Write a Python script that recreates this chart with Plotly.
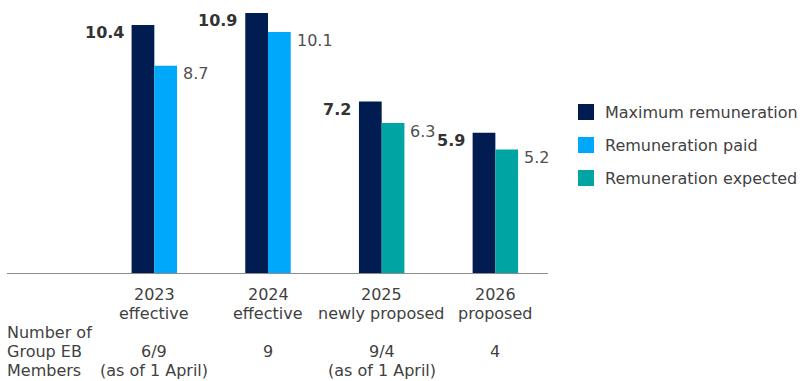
import plotly.graph_objects as go

# ---------------- data ----------------
years = ["2023", "2024", "2025", "2026"]
status = ["effective", "effective", "newly proposed", "proposed"]
max_remuneration = [10.4, 10.9, 7.2, 5.9]
remuneration_paid = [8.7, 10.1]          # 2023, 2024
remuneration_expected = [6.3, 5.2]       # 2025, 2026
members_count = ["6/9", "9", "9/4", "4"]
members_note = ["(as of 1 April)", "", "(as of 1 April)", ""]
members_label = ["Number of", "Group EB", "Members"]
series_names = ["Maximum remuneration", "Remuneration paid", "Remuneration expected"]
colors = ["#011C51", "#00A8FC", "#00A4A2"]

# ---------------- layout helpers ----------------
W, H = 805, 381
L, R, T, B = 7, 257, 6, 107
PW, PH = W - L - R, H - T - B
FONT = "DejaVu Sans"
FS = 16
TXT = "#414141"

def px_x(p):
    return (p - L) / PW

def px_y(p):
    return (H - B - p) / PH

idx = list(range(len(years)))
paid_idx = idx[:2]
exp_idx = idx[2:]
BW = 0.2

fig = go.Figure()
fig.add_trace(go.Bar(x=idx, y=max_remuneration, width=BW, offset=-BW,
                     marker=dict(color=colors[0], line=dict(width=0)),
                     name=series_names[0], showlegend=False, hoverinfo="y"))
fig.add_trace(go.Bar(x=paid_idx, y=remuneration_paid, width=BW, offset=0,
                     marker=dict(color=colors[1], line=dict(width=0)),
                     name=series_names[1], showlegend=False, hoverinfo="y"))
fig.add_trace(go.Bar(x=exp_idx, y=remuneration_expected, width=BW, offset=0,
                     marker=dict(color=colors[2], line=dict(width=0)),
                     name=series_names[2], showlegend=False, hoverinfo="y"))

ann = []
# value labels
for i, v in zip(idx, max_remuneration):
    ann.append(dict(x=i - BW, y=v, xref="x", yref="y", text=f"<b>{v:.1f}</b>",
                    xanchor="right", yanchor="middle", xshift=-6, yshift=-8,
                    showarrow=False, font=dict(family=FONT, size=FS, color="#333333")))
for i, v in list(zip(paid_idx, remuneration_paid)) + list(zip(exp_idx, remuneration_expected)):
    ann.append(dict(x=i + BW, y=v, xref="x", yref="y", text=f"{v:.1f}",
                    xanchor="left", yanchor="middle", xshift=4, yshift=-8,
                    showarrow=False, font=dict(family=FONT, size=FS, color="#505050")))

# category labels and members rows
line_y = [294.5, 313.5, 332.5, 351.5, 370.5]
for i in idx:
    rows = [years[i], status[i], "", members_count[i], members_note[i]]
    for r, t in enumerate(rows):
        if t:
            ann.append(dict(x=i, y=px_y(line_y[r]), xref="x", yref="paper", text=t,
                            xanchor="center", yanchor="middle", showarrow=False,
                            font=dict(family=FONT, size=FS, color=TXT)))
for r, t in enumerate(members_label):
    ann.append(dict(x=px_x(5), y=px_y(line_y[2 + r]), xref="paper", yref="paper", text=t,
                    xanchor="left", yanchor="middle", showarrow=False,
                    font=dict(family=FONT, size=FS, color=TXT)))

# manual legend
shapes = []
leg_top = [104, 137, 170]
for k, name in enumerate(series_names):
    y0 = leg_top[k]
    shapes.append(dict(type="rect", xref="paper", yref="paper",
                       x0=px_x(578), x1=px_x(594), y0=px_y(y0), y1=px_y(y0 + 16),
                       fillcolor=colors[k], line=dict(width=0)))
    ann.append(dict(x=px_x(603), y=px_y(y0 + 8), xref="paper", yref="paper", text=name,
                    xanchor="left", yanchor="middle", showarrow=False,
                    font=dict(family=FONT, size=FS, color=TXT)))

# baseline
shapes.append(dict(type="line", xref="paper", yref="y", x0=0, x1=1, y0=0, y1=0,
                   line=dict(color="#8C8C8C", width=2), layer="above"))

fig.update_layout(
    width=W, height=H,
    margin=dict(l=L, r=R, t=T, b=B, pad=0),
    paper_bgcolor="white", plot_bgcolor="white",
    barmode="overlay",
    xaxis=dict(range=[-1.296, 3.463], showticklabels=False, showgrid=False,
               zeroline=False, showline=False, ticks=""),
    yaxis=dict(range=[0, 11.19], showticklabels=False, showgrid=False,
               zeroline=False, showline=False, ticks=""),
    annotations=ann, shapes=shapes, showlegend=False,
    font=dict(family=FONT, size=FS, color=TXT),
)

fig.write_html("out.html")
